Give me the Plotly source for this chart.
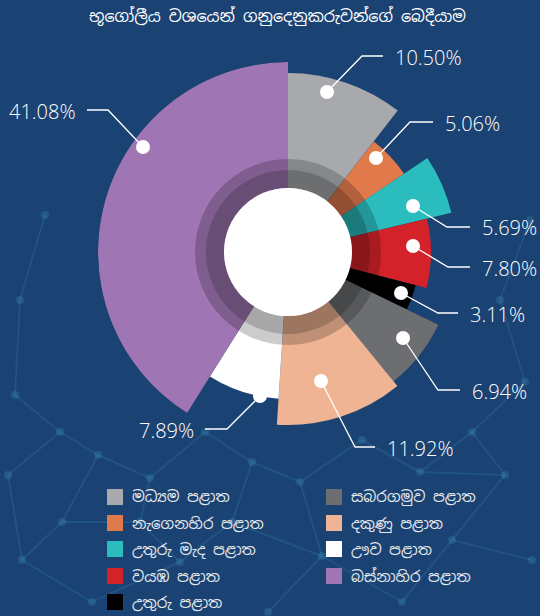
import plotly.graph_objects as go

# ---------------- data ----------------
regions = ["මධ්‍යම පළාත", "නැගෙනහිර පළාත", "උතුරු මැද පළාත", "වයඹ පළාත",
           "උතුරු පළාත", "සබරගමුව පළාත", "දකුණු පළාත", "ඌව පළාත", "බස්නාහිර පළාත"]
shares = [10.50, 5.06, 5.69, 7.80, 3.11, 6.94, 11.92, 7.89, 41.08]
radius = [179, 140, 168, 143, 132, 167, 173, 147, 190]
colors = ["#a7a9ac", "#e07a4b", "#2bbcbe", "#d3222a", "#000000",
          "#6d6e71", "#efb493", "#ffffff", "#9f76b3"]
title = "භූගෝලීය වශයෙන් ගනුදෙනුකරුවන්ගේ බෙදීයාම"

# legend order (two columns)
legend_left = [0, 1, 2, 3, 4]
legend_right = [5, 6, 7, 8]

W, H = 540, 616
CX, CY, R = 288, 252, 190
BG = "#1a4272"

# ------------- geometry from data -------------
total = sum(shares)
widths = [s / total * 360 for s in shares]
thetas = []
acc = 0
for w in widths:
    thetas.append(acc + w / 2)
    acc += w

fig = go.Figure()
fig.add_trace(go.Barpolar(
    theta=thetas, r=radius, width=widths,
    marker=dict(color=colors, line=dict(width=0)),
    hoverinfo="text", text=[f"{n}: {s:.2f}%" for n, s in zip(regions, shares)],
    showlegend=False,
))
# darker ring overlays + center hole
ring_t = [45, 135, 225, 315]
fig.add_trace(go.Barpolar(theta=ring_t, r=[29] * 4, base=[64] * 4, width=[90] * 4,
                          marker=dict(color="rgba(0,0,0,0.2)", line=dict(width=0)),
                          hoverinfo="skip", showlegend=False))
fig.add_trace(go.Barpolar(theta=ring_t, r=[18] * 4, base=[64] * 4, width=[90] * 4,
                          marker=dict(color="rgba(0,0,0,0.18)", line=dict(width=0)),
                          hoverinfo="skip", showlegend=False))
fig.add_trace(go.Barpolar(theta=ring_t, r=[64] * 4, width=[90] * 4,
                          marker=dict(color="#ffffff", line=dict(width=0)),
                          hoverinfo="skip", showlegend=False))


def px(x):
    return x / W


def py(y):
    return 1 - y / H


shapes = []
annotations = []

# ---------- decorative background network (faint) ----------
nodes = [(15, 395), (60, 432), (8, 475), (98, 455), (150, 478), (205, 432), (252, 462),
         (232, 522), (180, 562), (92, 602), (22, 560), (300, 482), (362, 440), (420, 472),
         (472, 432), (525, 382), (505, 475), (452, 540), (532, 560), (402, 602), (322, 556),
         (268, 612), (140, 522), (62, 522), (500, 300), (530, 220), (20, 300), (45, 215)]
edges = [(0, 1), (1, 2), (1, 3), (3, 4), (4, 5), (5, 6), (6, 7), (7, 8), (8, 9), (9, 10),
         (10, 23), (23, 22), (22, 8), (3, 23), (6, 11), (11, 12), (12, 13), (13, 14), (14, 15),
         (13, 16), (16, 17), (17, 18), (17, 19), (19, 20), (20, 11), (20, 21), (7, 20), (4, 22),
         (14, 16), (24, 15), (24, 25), (0, 26), (26, 27), (2, 10)]
for a, b in edges:
    (x0, y0), (x1, y1) = nodes[a], nodes[b]
    shapes.append(dict(type="line", xref="paper", yref="paper", layer="below",
                       x0=px(x0), y0=py(y0), x1=px(x1), y1=py(y1),
                       line=dict(color="rgba(70,175,210,0.16)", width=2)))
for (x, y) in nodes:
    rr = 4
    shapes.append(dict(type="circle", xref="paper", yref="paper", layer="below",
                       x0=px(x - rr), x1=px(x + rr), y0=py(y + rr), y1=py(y - rr),
                       fillcolor="rgba(90,195,225,0.18)", line=dict(width=0)))

# ---------- leader lines, dots, labels (pixel layout) ----------
label_layout = [
    ((327, 92), (362, 56), 383, "left"),
    ((376, 158), (410, 122), 433, "left"),
    ((413, 206), (447, 227), 470, "left"),
    ((413, 246), (448, 267), 470, "left"),
    ((401, 293), (438, 313), 458, "left"),
    ((403, 338), (438, 390), 460, "left"),
    ((321, 381), (355, 447), 375, "left"),
    ((260, 396), (227, 429), 205, "right"),
    ((143, 147), (108, 110), 87, "right"),
]
for i, ((dx, dy), (ex, ey), endx, side) in enumerate(label_layout):
    shapes.append(dict(type="path", xref="paper", yref="paper",
                       path=f"M {px(dx)} {py(dy)} L {px(ex)} {py(ey)} L {px(endx)} {py(ey)}",
                       line=dict(color="#ffffff", width=1.3)))
    rr = 7
    shapes.append(dict(type="circle", xref="paper", yref="paper",
                       x0=px(dx - rr), x1=px(dx + rr), y0=py(dy + rr), y1=py(dy - rr),
                       fillcolor="#ffffff", line=dict(width=0)))
    tx = endx + 10 if side == "left" else endx - 9
    annotations.append(dict(x=px(tx), y=py(ey + 1), xref="paper", yref="paper",
                            text=f"{shares[i]:.2f}%", showarrow=False,
                            xanchor="left" if side == "left" else "right", yanchor="middle",
                            font=dict(family="Open Sans, Roboto, sans-serif", size=20,
                                      weight=300, color="#ffffff")))

# ---------- legend ----------
row_y = [497, 523, 549, 576, 602]
for col_x, idxs in ((107, legend_left), (326, legend_right)):
    for k, idx in enumerate(idxs):
        yc = row_y[k]
        shapes.append(dict(type="rect", xref="paper", yref="paper",
                           x0=px(col_x), x1=px(col_x + 16), y0=py(yc + 8), y1=py(yc - 8),
                           fillcolor=colors[idx], line=dict(width=0)))
        annotations.append(dict(x=px(col_x + 23), y=py(yc), xref="paper", yref="paper",
                                text=regions[idx], showarrow=False, xanchor="left", yanchor="middle",
                                font=dict(family="Noto Sans Sinhala, Noto Sans, sans-serif",
                                          size=15, color="#e6e9ee")))

annotations.append(dict(x=px(277), y=py(16), xref="paper", yref="paper", text=title,
                        showarrow=False, xanchor="center", yanchor="middle",
                        font=dict(family="Noto Sans Sinhala, Noto Sans, sans-serif",
                                  size=16, color="#ffffff")))

fig.update_layout(
    width=W, height=H, margin=dict(l=0, r=0, t=0, b=0),
    paper_bgcolor=BG, plot_bgcolor=BG,
    polar=dict(
        domain=dict(x=[px(CX - R), px(CX + R)], y=[py(CY + R), py(CY - R)]),
        bgcolor="rgba(0,0,0,0)",
        radialaxis=dict(range=[0, R], visible=False, showgrid=False),
        angularaxis=dict(rotation=90, direction="clockwise", visible=False, showgrid=False),
        bargap=0,
    ),
    shapes=shapes, annotations=annotations, showlegend=False,
)
fig.write_html("out.html", config={"displayModeBar": False},
               post_script="document.body.style.margin='0px';document.body.style.overflow='hidden';")
